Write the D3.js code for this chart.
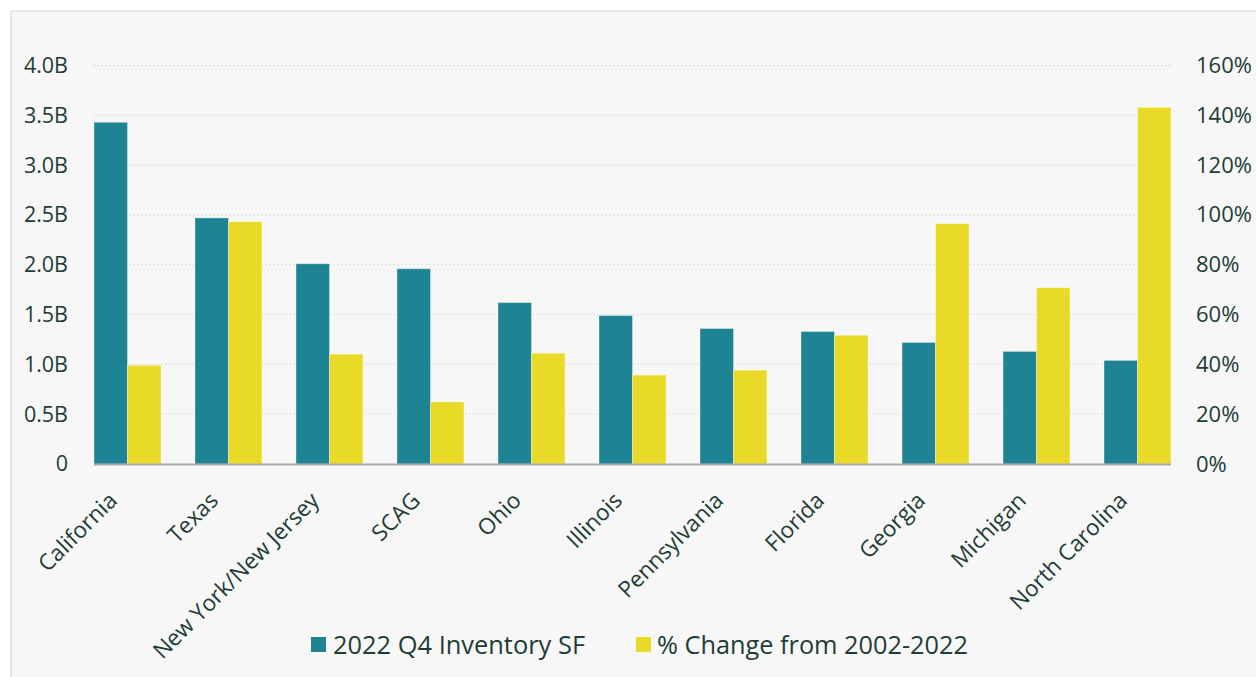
<!DOCTYPE html>
<html>
<head>
<meta charset="utf-8">
<script src="https://cdn.jsdelivr.net/npm/d3@7"></script>
<style>
  html, body { margin: 0; padding: 0; background: #ffffff; }
  #chart { width: 1256px; height: 677px; }
  text { font-family: "Open Sans", "Noto Sans", sans-serif; fill: #213c35; }
</style>
</head>
<body>
<div id="chart"></div>
<script>
const categories = ["California", "Texas", "New York/New Jersey", "SCAG", "Ohio", "Illinois",
  "Pennsylvania", "Florida", "Georgia", "Michigan", "North Carolina"];
// 2022 Q4 inventory, square feet
const inventorySF = [3.43e9, 2.47e9, 2.01e9, 1.96e9, 1.62e9, 1.49e9, 1.36e9, 1.33e9, 1.22e9, 1.13e9, 1.04e9];
// % change 2002-2022
const pctChange = [0.396, 0.973, 0.441, 0.249, 0.445, 0.357, 0.377, 0.517, 0.965, 0.708, 1.432];
const leftTicks = [0, 0.5e9, 1e9, 1.5e9, 2e9, 2.5e9, 3e9, 3.5e9, 4e9];
const rightTicks = [0, 0.2, 0.4, 0.6, 0.8, 1.0, 1.2, 1.4, 1.6];
const seriesNames = ["2022 Q4 Inventory SF", "% Change from 2002-2022"];
const colors = ["#1e8494", "#e9da27"];

const W = 1256, H = 677;
const svg = d3.select("#chart").append("svg")
  .attr("width", W).attr("height", H);

// panel
svg.append("rect")
  .attr("x", 11).attr("y", 11)
  .attr("width", W).attr("height", H)
  .attr("fill", "#f7f7f7")
  .attr("stroke", "#e2e2e2")
  .attr("stroke-width", 1.5);

const x = d3.scaleBand()
  .domain(categories)
  .range([94, 1171])
  .paddingInner(0.337)
  .paddingOuter(0);
const inner = d3.scaleBand()
  .domain([0, 1])
  .range([0, x.bandwidth()]);
const yL = d3.scaleLinear().domain([0, 4e9]).range([464, 65.5]);
const yR = d3.scaleLinear().domain([0, 1.6]).range([464, 65.5]);

// gridlines
svg.append("g")
  .selectAll("line")
  .data(leftTicks.slice(1))
  .join("line")
  .attr("x1", 93).attr("x2", 1171)
  .attr("y1", d => yL(d)).attr("y2", d => yL(d))
  .attr("stroke", "#dcdcdc")
  .attr("stroke-width", 1)
  .attr("stroke-dasharray", "2,2");

// left axis
const leftAxis = svg.append("g")
  .attr("transform", "translate(68,0)")
  .call(d3.axisLeft(yL).tickValues(leftTicks).tickSize(0).tickPadding(0)
    .tickFormat(d => d === 0 ? "0" : (d / 1e9).toFixed(1) + "B"));
leftAxis.select(".domain").remove();
leftAxis.selectAll("text")
  .attr("font-size", 21.5)
  .attr("fill", "#213c35")
  .attr("font-family", "\"Open Sans\", sans-serif");

// right axis
const rightAxis = svg.append("g")
  .attr("transform", "translate(1196,0)")
  .call(d3.axisRight(yR).tickValues(rightTicks).tickSize(0).tickPadding(0)
    .tickFormat(d => Math.round(d * 100) + "%"));
rightAxis.select(".domain").remove();
rightAxis.selectAll("text")
  .attr("font-size", 22)
  .attr("fill", "#213c35")
  .attr("font-family", "\"Open Sans\", sans-serif");

// bars
const groups = svg.append("g")
  .selectAll("g")
  .data(categories)
  .join("g")
  .attr("transform", d => `translate(${x(d)},0)`);

groups.append("rect")
  .attr("x", inner(0))
  .attr("width", inner.bandwidth())
  .attr("y", (d, i) => yL(inventorySF[i]))
  .attr("height", (d, i) => yL(0) - yL(inventorySF[i]))
  .attr("fill", colors[0])
  .attr("stroke", "rgba(255,255,255,0.35)")
  .attr("stroke-width", 1);

groups.append("rect")
  .attr("x", inner(1))
  .attr("width", inner.bandwidth())
  .attr("y", (d, i) => yR(pctChange[i]))
  .attr("height", (d, i) => yR(0) - yR(pctChange[i]))
  .attr("fill", colors[1])
  .attr("stroke", "rgba(255,255,255,0.35)")
  .attr("stroke-width", 1);

// baseline
svg.append("line")
  .attr("x1", 94).attr("x2", 1171)
  .attr("y1", 464.5).attr("y2", 464.5)
  .attr("stroke", "#a8a8a8")
  .attr("stroke-width", 2);

// category labels
svg.append("g")
  .selectAll("text")
  .data(categories)
  .join("text")
  .attr("transform", d => `translate(${x(d) + x.bandwidth() / 2 - 9},502) rotate(-45)`)
  .attr("text-anchor", "end")
  .attr("font-size", 22.5)
  .text(d => d);

// legend
const legendItems = [
  { sx: 311, tx: 333, w: 252 },
  { sx: 636, tx: 657, w: 311 }
];
const legend = svg.append("g")
  .selectAll("g")
  .data(seriesNames)
  .join("g");
legend.append("rect")
  .attr("x", (d, i) => legendItems[i].sx)
  .attr("y", 637)
  .attr("width", 15).attr("height", 15)
  .attr("fill", (d, i) => colors[i]);
legend.append("text")
  .attr("x", (d, i) => legendItems[i].tx)
  .attr("y", 654)
  .attr("font-family", "Roboto, sans-serif")
  .attr("font-weight", 500)
  .attr("font-size", 26)
  .attr("textLength", (d, i) => legendItems[i].w)
  .attr("lengthAdjust", "spacingAndGlyphs")
  .text(d => d);
</script>
</body>
</html>
